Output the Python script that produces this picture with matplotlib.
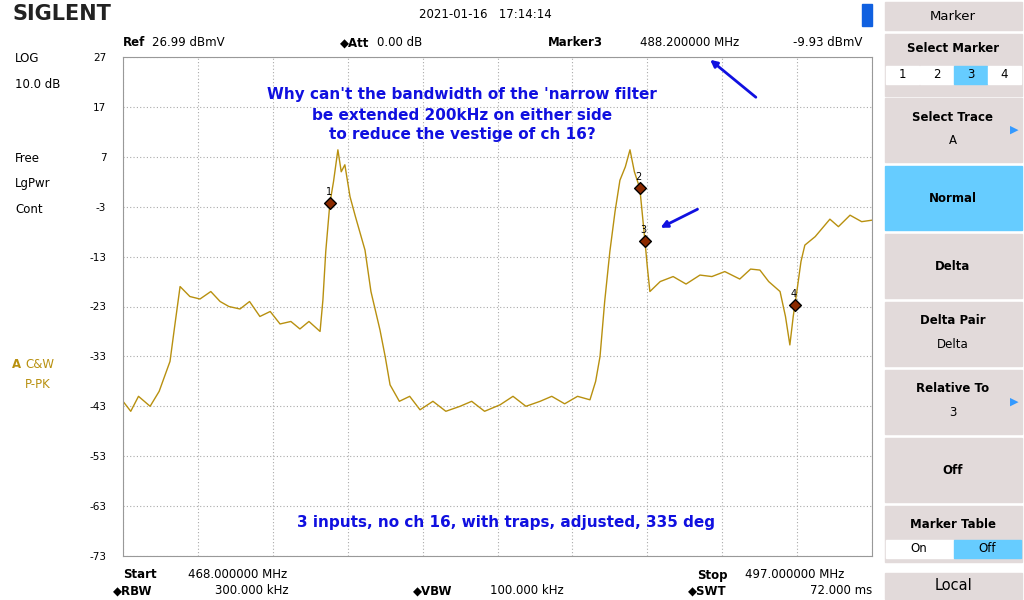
import matplotlib
matplotlib.use("Agg")
import matplotlib.pyplot as plt
from matplotlib.patches import Rectangle

W, H = 1024, 600
freq = [468.0,468.3,468.6,469.05,469.4,469.82,470.0,470.21,470.4,470.59,470.98,471.4,471.76,472.1,472.53,472.9,473.3,473.7,474.08,474.5,474.85,475.2,475.63,475.74,475.85,476.01,476.15,476.32,476.45,476.59,476.79,477.0,477.37,477.6,477.95,478.15,478.34,478.7,479.1,479.5,480.0,480.5,481.05,481.5,482.0,482.6,483.1,483.6,484.15,484.6,485.1,485.6,486.08,486.3,486.47,486.65,486.85,487.05,487.24,487.45,487.63,487.8,488.01,488.21,488.3,488.4,488.8,489.3,489.8,490.34,490.8,491.3,491.88,492.3,492.66,493.0,493.44,493.65,493.82,493.95,494.09,494.25,494.4,494.8,495.37,495.7,496.15,496.6,497.0]
level = [-42,-44,-41,-43,-40,-34,-27,-19,-20,-21,-21.5,-20,-22,-23,-23.5,-22,-25,-24,-26.5,-26,-27.5,-26,-28,-21.7,-12,-2.3,2,8.4,4,5.4,-1,-5,-11.7,-20,-27.7,-33,-38.7,-42,-41,-43.7,-42,-44,-43,-42,-44,-42.7,-41,-43,-42,-41,-42.5,-41,-41.7,-38,-33,-22,-12,-4,2.3,5,8.4,4,0.7,-9.93,-15,-20,-18,-17,-18.5,-16.7,-17,-16,-17.5,-15.5,-15.7,-18,-20,-25,-30.7,-25,-20,-14,-10.7,-9,-5.5,-7,-4.7,-6,-5.7]
mk_freq = [476.01, 488.01, 488.21, 494.02]
mk_level = [-2.3, 0.7, -9.93, -22.7]
mk_name = ["1", "2", "3", "4"]
yticks = [27, 17, 7, -3, -13, -23, -33, -43, -53, -63, -73]

fig = plt.figure(figsize=(10.24, 6), dpi=100)
fig.patch.set_facecolor("white")
def fx(x): return x / W
def fy(y): return 1 - y / H

ax = fig.add_axes([fx(123), fy(556), (872-123)/W, (556-57)/H])
ax.plot(freq, level, color="#b8900f", lw=1)
ax.scatter(mk_freq, mk_level, marker="D", s=36, color="#8b2a00", edgecolor="black", zorder=5)
for f, l, n in zip(mk_freq, mk_level, mk_name):
    ax.text(f - 0.05, l + 1.3, n, fontsize=7, ha="center", va="bottom")
ax.set_xlim(468, 497); ax.set_ylim(-73, 27)
ax.set_yticks(yticks); ax.set_yticklabels([str(t) for t in yticks], fontsize=7.5)
ax.set_xticks([468 + i * 2.9 for i in range(11)]); ax.set_xticklabels([])
ax.tick_params(length=0, pad=12)
ax.grid(True, color="#aaaaaa", ls=(0, (1, 2)), lw=0.8)
for s in ax.spines.values(): s.set_color("#999999")

blue = "#1010e0"
for i, t in enumerate(["Why can't the bandwidth of the 'narrow filter", "be extended 200kHz on either side", "to reduce the vestige of ch 16?"]):
    fig.text(fx(462), fy(95 + 20 * i), t, color=blue, fontsize=11, weight="bold", ha="center", va="center")
fig.text(fx(506), fy(523), "3 inputs, no ch 16, with traps, adjusted, 335 deg", color=blue, fontsize=11, weight="bold", ha="center", va="center")
ax.annotate("", xy=(fx(708), fy(58)), xytext=(fx(758), fy(99)), xycoords="figure fraction",
            arrowprops=dict(arrowstyle="-|>", color=blue, lw=2))
ax.annotate("", xy=(fx(658), fy(229)), xytext=(fx(700), fy(208)), xycoords="figure fraction",
            arrowprops=dict(arrowstyle="-|>", color=blue, lw=2))

def T(x, y, s, **k):
    k.setdefault("fontsize", 8.5)
    fig.text(fx(x), fy(y), s, va="center", **k)

T(12, 14, "SIGLENT", fontsize=15, weight="bold", color="#222222")
T(485, 14, "2021-01-16   17:14:14", ha="center")
T(123, 43, "Ref", weight="bold"); T(152, 43, "26.99 dBmV")
T(340, 43, "◆Att", weight="bold"); T(377, 43, "0.00 dB")
T(548, 43, "Marker3", weight="bold"); T(640, 43, "488.200000 MHz"); T(793, 43, "-9.93 dBmV")
for y, s in [(59, "LOG"), (84, "10.0 dB"), (159, "Free"), (184, "LgPwr"), (209, "Cont")]:
    T(15, y, s)
T(12, 364, "A", color="#b8900f", weight="bold"); T(25, 364, "C&W", color="#b8900f"); T(25, 384, "P-PK", color="#b8900f")
T(123, 575, "Start", weight="bold"); T(188, 575, "468.000000 MHz")
T(697, 575, "Stop", weight="bold"); T(745, 575, "497.000000 MHz")
T(113, 591, "◆RBW", weight="bold"); T(215, 591, "300.000 kHz")
T(413, 591, "◆VBW", weight="bold"); T(490, 591, "100.000 kHz")
T(688, 591, "◆SWT", weight="bold"); T(810, 591, "72.000 ms")
fig.add_artist(Rectangle((fx(862), fy(26)), 10/W, 22/H, transform=fig.transFigure, color="#1060e0"))

gray = "#e2dada"
def box(y0, y1, color=gray):
    fig.add_artist(Rectangle((fx(885), fy(y1)), (1022-885)/W, (y1-y0)/H, transform=fig.transFigure, color=color))
box(2, 30); T(953, 16, "Marker", ha="center", fontsize=9.5)
box(34, 96); T(953, 49, "Select Marker", ha="center", weight="bold")
for i, n in enumerate(["1", "2", "3", "4"]):
    x0 = 886 + i * 34
    c = "#66ccff" if n == "3" else "white"
    fig.add_artist(Rectangle((fx(x0), fy(84)), 33/W, 18/H, transform=fig.transFigure, color=c))
    T(x0 + 16.5, 74, n, ha="center")
items = [(98, 162, "Select Trace", "A"), (166, 230, "Normal", None), (234, 298, "Delta", None),
         (302, 366, "Delta Pair", "Delta"), (370, 434, "Relative To", "3"), (438, 502, "Off", None)]
for y0, y1, a, b in items:
    box(y0, y1, "#66ccff" if a == "Normal" else gray)
    if b:
        T(953, y0 + 19, a, ha="center", weight="bold"); T(953, y0 + 43, b, ha="center")
    else:
        T(953, (y0 + y1) / 2, a, ha="center", weight="bold")
    if b in ("A", "3"):
        T(1010, y0 + 32, "▶", color="#3399ff", fontsize=8)
box(506, 562); T(953, 525, "Marker Table", ha="center", weight="bold")
fig.add_artist(Rectangle((fx(886), fy(558)), 67/W, 18/H, transform=fig.transFigure, color="white"))
fig.add_artist(Rectangle((fx(954), fy(558)), 67/W, 18/H, transform=fig.transFigure, color="#66ccff"))
T(919, 549, "On", ha="center"); T(987, 549, "Off", ha="center")
box(573, 599); T(953, 586, "Local", ha="center", fontsize=10.5)

fig.savefig("out.png", dpi=100)
